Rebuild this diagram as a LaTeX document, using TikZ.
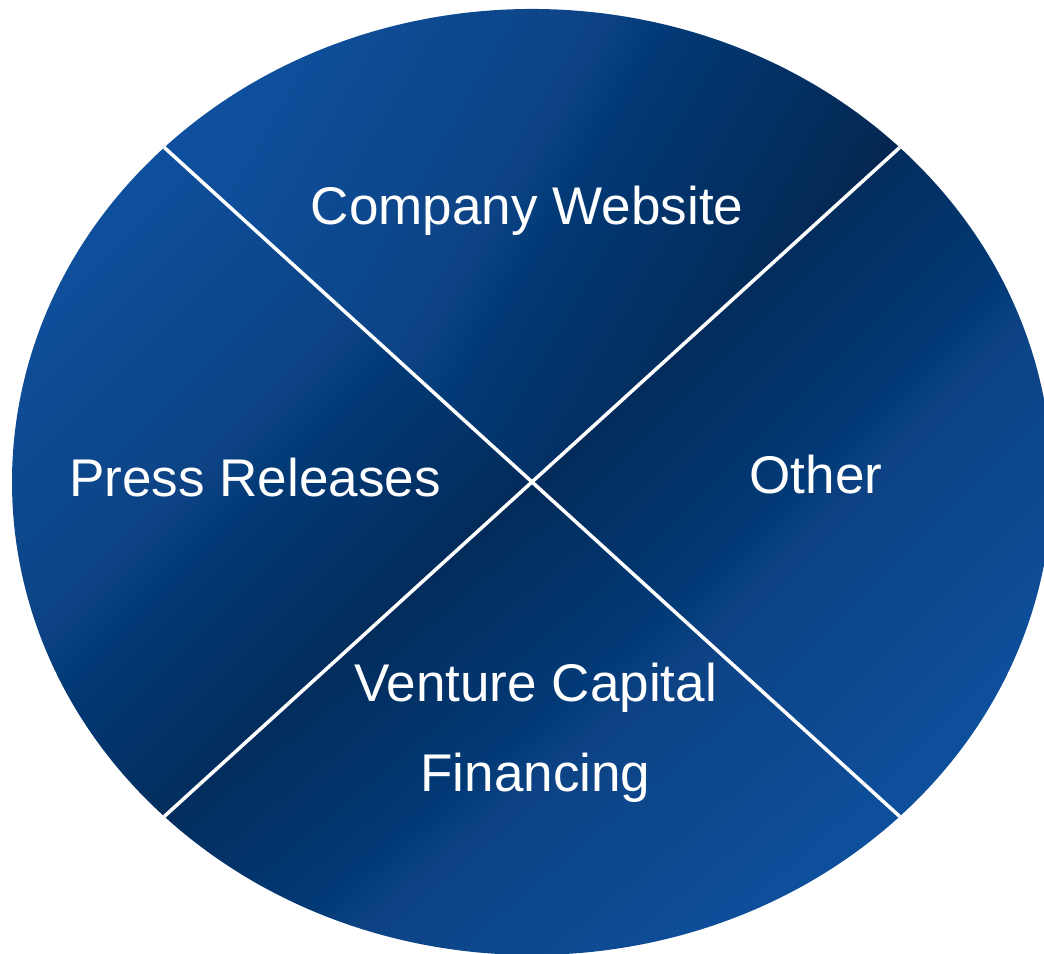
\documentclass[tikz,border=0pt]{standalone}
\usepackage{fontspec}
\setmainfont{Liberation Sans}
\definecolor{quadlight}{HTML}{0E509E}
\definecolor{quadband}{HTML}{0D4384}
\definecolor{quadmid}{HTML}{023A77}
\definecolor{quaddark}{HTML}{04264F}
\pgfdeclarehorizontalshading{quadshade}{100bp}{color(0bp)=(quadlight); color(25bp)=(quadlight); color(47bp)=(quadband); color(51bp)=(quadmid); color(72bp)=(quaddark); color(100bp)=(quaddark)}

\begin{document}
\begin{tikzpicture}[
    quarter/.style={shading=quadshade},
    divider/.style={draw=white, line width=1pt},
    quadtext/.style={text=white, font=\fontsize{15.1pt}{25.6pt}\selectfont}]
        % fix the page
        \useasboundingbox (0cm,0cm) rectangle (10.44cm,9.54cm);
        \clip (0cm,0cm) rectangle (10.44cm,9.54cm);

        % centre and the points where the dividers meet the rim
        \coordinate (o) at (5.32cm,4.72cm);
        \path (o) ++(45:5.2cm and 4.73cm) coordinate (ne)
              (o) ++(135:5.2cm and 4.73cm) coordinate (nw)
              (o) ++(225:5.2cm and 4.73cm) coordinate (sw)
              (o) ++(315:5.2cm and 4.73cm) coordinate (se);

        % the four quarters
        \shade[quarter, shading angle=-30]
            (o) -- (ne) arc[start angle=45, end angle=135, x radius=5.2cm, y radius=4.73cm] -- cycle;
        \shade[quarter, shading angle=-45]
            (o) -- (nw) arc[start angle=135, end angle=225, x radius=5.2cm, y radius=4.73cm] -- cycle;
        \shade[quarter, shading angle=130]
            (o) -- (sw) arc[start angle=225, end angle=315, x radius=5.2cm, y radius=4.73cm] -- cycle;
        \shade[quarter, shading angle=135]
            (o) -- (se) arc[start angle=-45, end angle=45, x radius=5.2cm, y radius=4.73cm] -- cycle;

        % the dividers
        \draw[divider] (nw) -- (se);
        \draw[divider] (ne) -- (sw);

        % the labels
        \node[quadtext, anchor=base] (website) at (5.27cm,7.29cm) {Company Website};
        \node[quadtext, anchor=base] (press) at (2.55cm,4.57cm) {Press Releases};
        \node[quadtext, anchor=base] (other) at (8.16cm,4.60cm) {Other};
        \node[quadtext, align=center] (venture) at (5.355cm,2.21cm) {Venture Capital\\Financing};
\end{tikzpicture}
\end{document}
